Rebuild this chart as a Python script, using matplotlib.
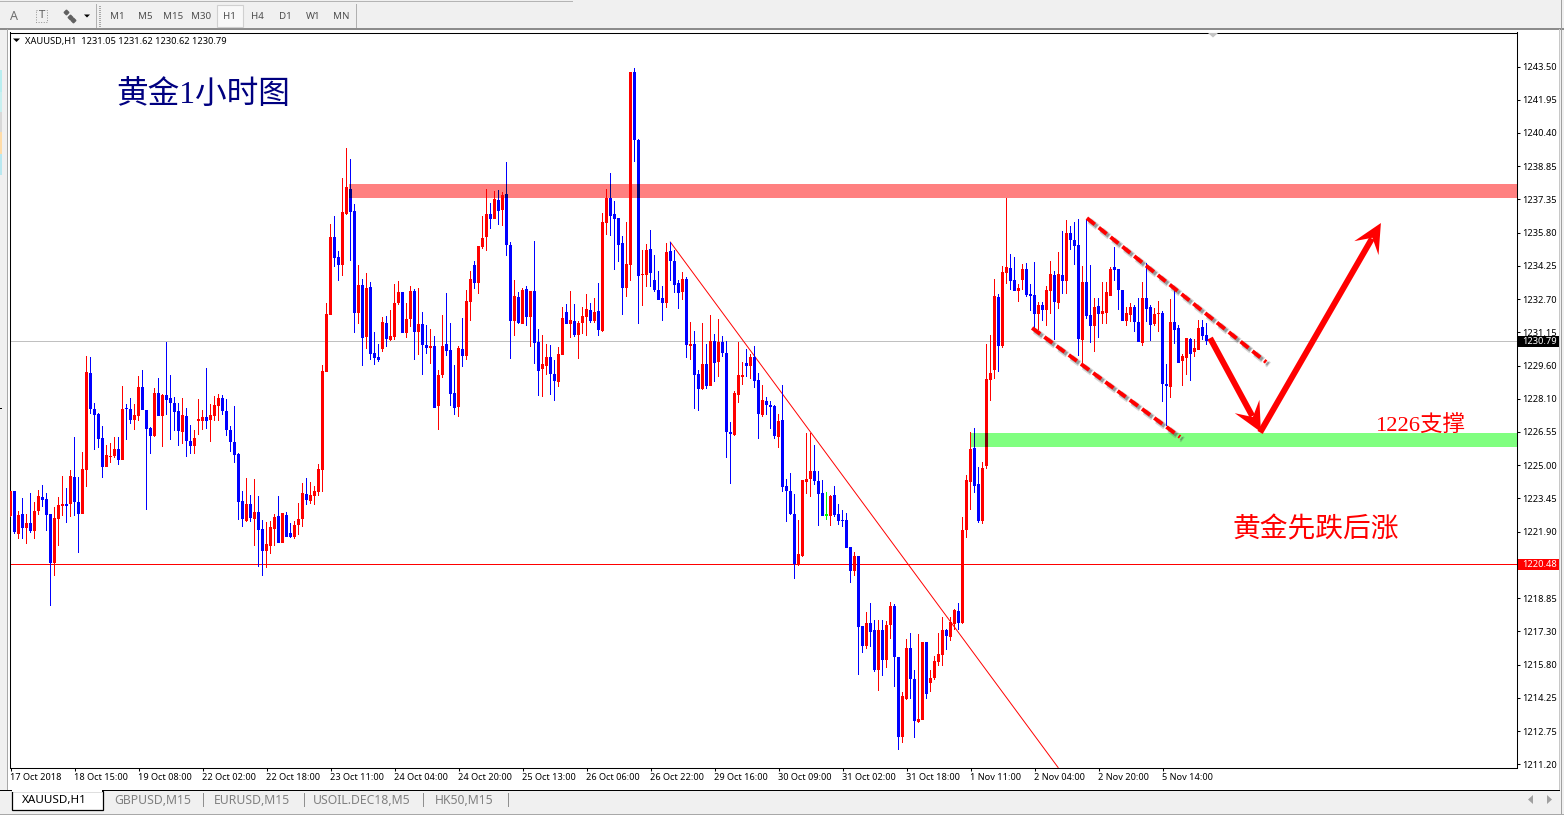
import numpy as np
import matplotlib
matplotlib.use("Agg")
import matplotlib.pyplot as plt
from matplotlib.patches import Rectangle, Polygon
from matplotlib.transforms import ScaledTranslation

opens = [
1222.68,1223.84,1221.85,1222.77,1222.12,1222.36,1221.98,1222.91,1223.56,1223.47,
1222.77,1220.50,1222.54,1223.14,1223.24,1223.24,1224.49,1223.33,1222.77,1224.81,
1229.30,1227.64,1227.40,1226.29,1224.95,1225.41,1225.46,1225.78,1225.27,1227.68,
1227.64,1227.13,1227.31,1228.66,1227.59,1226.76,1226.39,1228.38,1227.31,1228.28,
1228.15,1227.91,1227.54,1226.57,1227.31,1226.15,1225.92,1227.08,1227.08,1227.27,
1227.13,1227.31,1227.78,1228.15,1227.54,1226.66,1226.11,1225.55,1223.37,1222.45,
1223.24,1222.54,1222.87,1222.08,1221.06,1221.29,1222.08,1222.68,1221.43,1222.73,
1221.89,1221.71,1222.26,1222.54,1223.70,1223.37,1223.61,1223.79,1224.81,1229.35,
1231.99,1235.60,1234.68,1234.30,1236.67,1237.83,1236.81,1232.08,1233.38,1230.97,
1233.29,1230.23,1230.04,1230.41,1231.62,1230.83,1230.97,1232.55,1233.05,1231.16,
1231.80,1233.10,1231.20,1231.57,1230.60,1230.46,1230.55,1227.77,1229.21,1230.65,
1230.37,1228.38,1227.73,1230.41,1230.09,1232.59,1234.30,1233.47,1235.14,1235.60,
1236.67,1236.44,1237.32,1236.85,1237.59,1235.23,1231.71,1232.82,1231.57,1233.19,
1231.90,1233.10,1230.74,1229.49,1229.63,1230.04,1229.26,1228.89,1230.14,1232.13,
1231.57,1231.71,1231.06,1231.62,1231.90,1232.22,1231.71,1232.17,1231.25,1236.25,
1237.41,1236.67,1236.48,1235.32,1233.24,1234.30,1243.24,1240.09,1233.84,1233.84,
1235.05,1233.61,1233.15,1232.78,1232.55,1234.96,1234.49,1233.47,1233.06,1233.66,
1230.55,1230.65,1229.26,1228.56,1229.72,1228.70,1230.79,1229.82,1230.74,1230.23,
1226.57,1226.43,1228.29,1229.12,1229.77,1229.63,1230.05,1228.98,1227.36,1228.01,
1227.82,1227.78,1226.34,1227.13,1224.07,1223.83,1222.77,1220.41,1220.82,1224.25,
1224.39,1224.76,1224.30,1223.74,1222.70,1222.68,1223.65,1222.77,1222.49,1222.49,
1221.24,1220.13,1220.82,1217.58,1216.66,1217.72,1217.40,1215.54,1217.40,1216.01,
1217.63,1218.51,1216.15,1212.44,1214.20,1216.56,1215.13,1213.14,1213.23,1216.84,
1214.94,1215.17,1215.91,1216.24,1217.40,1217.07,1217.67,1218.28,1217.72,1222.03,
1224.25,1225.83,1224.16,1222.45,1225.00,1228.98,1229.44,1232.82,1230.55,1233.94,
1234.17,1233.61,1233.10,1233.61,1234.12,1232.96,1232.92,1232.04,1232.45,1232.22,
1233.10,1233.84,1232.55,1233.84,1233.57,1235.79,1235.46,1235.23,1230.83,1233.52,
1231.99,1231.48,1232.41,1232.04,1232.08,1232.87,1234.21,1234.12,1233.15,1231.71,
1231.99,1232.36,1231.67,1230.69,1232.78,1232.36,1231.57,1232.04,1232.08,1228.79,
1228.66,1231.67,1231.39,1229.86,1230.00,1230.88,1230.28,1230.37,1231.43,1231.05]

highs = [
1223.84,1223.84,1222.91,1223.51,1222.77,1223.74,1223.33,1223.88,1224.12,1223.74,
1222.77,1223.10,1223.56,1224.53,1223.98,1224.81,1226.34,1224.49,1225.64,1230.09,
1230.04,1227.91,1227.45,1226.85,1225.97,1226.06,1226.34,1226.34,1228.70,1227.87,
1228.15,1227.87,1229.16,1229.44,1227.59,1226.80,1228.61,1229.07,1228.33,1230.74,
1229.21,1228.19,1227.91,1228.15,1227.68,1226.90,1226.66,1228.10,1227.59,1229.54,
1227.87,1228.24,1228.33,1228.28,1228.10,1226.85,1227.78,1225.60,1223.84,1224.44,
1223.65,1224.39,1223.61,1222.49,1222.40,1222.45,1222.77,1223.61,1222.82,1222.87,
1222.36,1222.45,1223.28,1224.21,1224.44,1224.26,1224.07,1225.09,1229.67,1232.55,
1236.20,1236.57,1234.95,1238.33,1239.72,1239.21,1237.13,1234.30,1233.66,1233.93,
1233.52,1231.20,1230.65,1231.90,1231.94,1232.22,1233.42,1233.56,1233.05,1232.55,
1233.33,1233.19,1233.24,1232.13,1231.53,1231.34,1231.02,1229.44,1231.99,1233.01,
1231.62,1229.67,1230.55,1231.85,1233.15,1234.03,1234.49,1235.18,1236.57,1237.83,
1237.18,1237.73,1237.78,1237.69,1239.08,1235.37,1233.61,1233.05,1233.24,1233.33,
1233.10,1235.42,1231.34,1231.06,1230.65,1230.60,1229.90,1230.51,1232.36,1232.50,
1233.10,1232.50,1231.71,1232.36,1232.96,1232.55,1232.78,1233.47,1236.71,1237.83,
1238.57,1237.27,1236.48,1235.65,1236.30,1243.24,1243.43,1240.14,1235.00,1235.28,
1235.93,1234.77,1234.03,1233.34,1235.33,1235.37,1235.00,1233.61,1233.98,1233.75,
1231.67,1231.25,1229.44,1231.62,1230.65,1231.99,1231.11,1231.81,1231.02,1230.79,
1227.04,1228.47,1230.74,1229.82,1230.42,1230.19,1230.55,1229.31,1228.75,1228.20,
1228.01,1227.82,1227.41,1228.75,1224.39,1224.67,1223.70,1222.49,1224.34,1226.52,
1226.52,1225.97,1224.76,1224.34,1223.79,1223.65,1224.07,1223.23,1222.95,1222.81,
1221.24,1221.01,1220.82,1217.58,1218.23,1218.65,1217.86,1217.86,1217.86,1217.81,
1218.69,1218.60,1216.15,1214.52,1216.98,1217.26,1215.54,1217.21,1216.84,1216.84,
1215.54,1216.19,1217.26,1218.00,1217.44,1218.00,1218.37,1218.65,1222.63,1224.58,
1226.57,1226.76,1224.95,1225.18,1230.65,1231.06,1233.66,1232.96,1234.26,1237.41,
1234.82,1234.68,1233.43,1234.35,1234.40,1233.43,1234.45,1232.59,1232.59,1233.33,
1234.49,1234.03,1234.91,1235.88,1236.39,1236.11,1236.30,1236.44,1234.26,1236.44,
1234.31,1232.78,1232.78,1233.52,1233.52,1234.21,1235.14,1234.12,1233.15,1232.36,
1232.55,1232.45,1232.78,1233.52,1234.40,1232.45,1232.31,1232.64,1232.18,1229.72,
1232.73,1233.19,1231.53,1230.18,1230.93,1230.93,1230.88,1231.76,1231.76,1231.62]

lows = [
1222.62,1221.85,1221.61,1221.61,1221.38,1221.89,1221.61,1222.73,1223.10,1221.98,
1218.51,1219.90,1221.29,1222.68,1222.36,1222.63,1222.68,1220.97,1222.77,1224.02,
1227.40,1225.74,1225.83,1224.44,1224.95,1225.13,1225.37,1225.04,1225.27,1226.20,
1226.94,1226.66,1227.08,1227.59,1222.96,1225.55,1226.34,1227.31,1225.88,1227.36,
1226.20,1226.62,1225.92,1226.02,1225.41,1225.55,1225.55,1226.43,1226.66,1226.71,
1226.11,1227.08,1227.08,1227.36,1226.39,1225.64,1225.13,1222.49,1222.17,1222.40,
1222.40,1221.29,1220.32,1219.90,1220.27,1220.92,1221.29,1221.43,1221.43,1221.71,
1221.66,1221.61,1221.80,1222.17,1223.19,1223.24,1223.19,1223.61,1223.79,1229.35,
1231.99,1234.21,1233.56,1233.80,1236.62,1234.49,1231.16,1231.57,1229.63,1230.41,
1229.90,1229.67,1229.81,1230.26,1230.51,1230.78,1230.83,1232.45,1231.16,1230.92,
1231.43,1229.90,1230.14,1229.21,1230.18,1229.72,1227.68,1226.66,1229.07,1230.09,
1227.77,1227.36,1227.26,1229.58,1229.90,1231.71,1233.19,1232.96,1235.05,1234.95,
1235.97,1236.44,1236.16,1236.11,1234.72,1229.95,1231.02,1231.57,1231.57,1231.48,
1230.51,1229.72,1228.24,1228.19,1229.21,1228.28,1228.01,1228.65,1230.14,1231.57,
1230.92,1230.97,1229.95,1231.11,1231.02,1231.62,1231.62,1231.02,1231.20,1235.69,
1235.65,1234.07,1234.44,1231.99,1232.82,1233.56,1239.08,1231.57,1232.41,1233.29,
1233.29,1233.06,1232.69,1231.72,1232.32,1233.57,1233.01,1232.27,1232.69,1230.00,
1229.91,1227.64,1227.54,1228.52,1228.56,1228.70,1228.89,1229.12,1230.05,1225.37,
1224.17,1226.39,1227.92,1228.75,1229.12,1229.03,1228.61,1226.25,1227.27,1227.36,
1226.71,1226.25,1225.83,1223.79,1222.40,1222.72,1219.76,1220.36,1220.78,1223.70,
1223.56,1224.11,1222.21,1222.68,1222.49,1222.21,1222.63,1222.26,1222.17,1221.19,
1219.57,1219.90,1215.31,1216.33,1216.52,1216.61,1215.45,1214.57,1215.27,1215.64,
1216.98,1214.76,1211.84,1212.16,1214.15,1214.20,1212.39,1213.09,1213.23,1214.20,
1214.52,1215.08,1215.73,1215.73,1216.47,1216.89,1217.40,1217.40,1217.67,1221.66,
1222.96,1223.75,1222.36,1222.31,1224.86,1228.01,1229.03,1229.35,1230.46,1233.43,
1233.15,1233.10,1232.59,1233.15,1232.82,1232.18,1231.39,1231.30,1231.71,1231.48,
1232.04,1230.83,1232.27,1232.96,1232.96,1235.00,1234.31,1230.09,1229.63,1231.80,
1230.69,1230.28,1230.93,1231.57,1231.57,1232.87,1233.57,1232.22,1231.71,1231.48,
1231.67,1231.20,1230.74,1230.55,1231.67,1230.79,1231.48,1231.20,1227.96,1226.85,
1228.15,1230.65,1229.77,1228.70,1229.21,1228.93,1230.05,1230.37,1230.83,1230.62]

closes = [
1223.84,1221.94,1222.73,1222.12,1222.36,1221.98,1222.91,1223.61,1223.42,1222.73,
1220.50,1222.59,1223.19,1223.24,1223.14,1224.53,1223.33,1222.77,1224.86,1229.35,
1227.64,1227.36,1226.25,1224.95,1225.51,1225.46,1225.78,1225.27,1227.64,1227.64,
1227.13,1227.36,1228.66,1227.59,1226.71,1226.39,1228.38,1227.31,1228.28,1228.05,
1227.91,1227.50,1226.62,1227.36,1226.15,1225.92,1226.29,1227.17,1227.27,1227.08,
1227.36,1227.82,1228.15,1227.54,1226.66,1226.11,1225.51,1223.33,1222.54,1223.24,
1222.59,1222.87,1222.03,1221.06,1221.38,1222.17,1222.63,1221.43,1222.82,1221.71,
1221.71,1222.26,1222.54,1223.74,1223.42,1223.65,1223.84,1224.86,1229.40,1232.04,
1235.60,1234.63,1234.30,1236.76,1237.92,1236.76,1232.08,1233.38,1230.92,1233.24,
1230.18,1230.00,1229.90,1231.66,1230.88,1231.02,1232.55,1233.05,1231.16,1231.80,
1233.10,1231.20,1231.57,1230.60,1230.46,1230.55,1227.68,1229.21,1230.55,1230.32,
1228.33,1227.68,1230.46,1230.09,1232.64,1233.66,1233.47,1235.18,1235.56,1236.67,
1236.44,1237.36,1236.81,1237.55,1235.23,1231.71,1232.87,1231.62,1233.15,1231.90,
1233.10,1230.69,1229.39,1229.72,1230.04,1229.26,1228.93,1230.18,1231.85,1231.57,
1231.76,1231.06,1231.62,1231.94,1232.27,1231.71,1232.13,1231.29,1236.30,1237.41,
1236.57,1236.44,1235.23,1233.24,1234.35,1243.24,1240.09,1233.80,1233.89,1235.00,
1233.93,1233.15,1232.69,1232.55,1234.91,1234.49,1233.38,1233.01,1233.66,1230.60,
1230.65,1229.21,1228.56,1229.72,1228.70,1230.79,1229.77,1230.74,1230.23,1226.57,
1226.48,1228.38,1229.21,1229.21,1229.63,1230.05,1228.94,1227.41,1228.06,1227.82,
1227.73,1226.39,1227.08,1224.03,1223.83,1222.77,1220.45,1220.92,1224.34,1224.39,
1224.76,1224.30,1223.70,1222.68,1222.70,1223.60,1222.72,1222.45,1222.45,1221.19,
1220.13,1220.82,1217.53,1216.66,1217.72,1217.30,1215.54,1217.40,1216.01,1217.63,
1218.51,1216.15,1212.44,1214.34,1216.56,1215.13,1213.18,1213.27,1216.84,1214.43,
1215.17,1215.96,1216.28,1217.40,1217.12,1217.77,1218.32,1217.72,1222.03,1224.34,
1225.78,1224.07,1222.45,1224.90,1229.03,1229.30,1232.87,1230.55,1233.98,1234.21,
1233.57,1233.10,1233.24,1234.12,1232.92,1232.87,1232.04,1232.45,1232.22,1233.15,
1233.89,1232.59,1233.89,1233.57,1235.79,1235.46,1235.19,1230.88,1233.52,1231.94,
1231.48,1232.36,1232.04,1232.18,1233.06,1234.12,1234.07,1233.15,1231.71,1232.08,
1232.36,1231.67,1230.74,1232.78,1232.27,1231.53,1232.04,1232.08,1228.79,1228.70,
1231.67,1231.30,1229.77,1230.09,1230.93,1230.18,1230.46,1231.39,1231.02,1230.79]

price_ticks = ["1243.50","1241.95","1240.40","1238.85","1237.35","1235.80","1234.25","1232.70","1231.15","1229.60",
               "1228.10","1226.55","1225.00","1223.45","1221.90","1220.35","1218.85","1217.30","1215.80","1214.25",
               "1212.75","1211.20"]
date_labels = ["17 Oct 2018","18 Oct 15:00","19 Oct 08:00","22 Oct 02:00","22 Oct 18:00",
               "23 Oct 11:00","24 Oct 04:00","24 Oct 20:00","25 Oct 13:00","26 Oct 06:00",
               "26 Oct 22:00","29 Oct 16:00","30 Oct 09:00","31 Oct 02:00","31 Oct 18:00",
               "1 Nov 11:00","2 Nov 04:00","2 Nov 20:00","5 Nov 14:00"]
timeframes = ["M1","M5","M15","M30","H1","H4","D1","W1","MN"]
tabs = ["GBPUSD,M15","EURUSD,M15","USOIL.DEC18,M5","HK50,M15"]

bid = 1230.79
level = 1220.48
resistance = (1237.41, 1238.06)
support = (1225.87, 1226.52)

SANS = "Noto Sans"
CJK = ["Liberation Serif", "Noto Sans CJK SC"]
W, H = 1564, 815

O, Hi, L, C = map(np.array, (opens, highs, lows, closes))
idx = np.arange(len(O))
assert all(len(a) == 300 for a in (O, Hi, L, C))

fig = plt.figure(figsize=(W/100, H/100), dpi=100, facecolor="#f0f0f0")

# window chrome, in pixels
bg = fig.add_axes([0, 0, 1, 1], zorder=0)
bg.set_xlim(0, W); bg.set_ylim(H, 0); bg.axis("off")
def rect(x0, y0, x1, y1, **kw):
    kw.setdefault("lw", 0)
    bg.add_patch(Rectangle((x0, y0), x1-x0, y1-y0, **kw))
rect(8, 30, 1559, 790, fc="white")
rect(0, 28, 1564, 29.5, fc="#8c8c8c")
rect(0, 0.5, 573, 1.5, fc="#b4b4b4")
rect(7, 29, 8, 790, fc="#a8a8a8")
rect(1559, 29, 1560, 790, fc="#c8c8c8")
rect(1561, 0, 1562, 815, fc="#a0a0a0")
rect(0, 790, 1560, 791, fc="black")
rect(0, 813.5, 1564, 815, fc="#a8a8a8")
for y0, y1, c in [(70, 92, "#b8eef0"), (92, 112, "#c8f0f0"), (112, 132, "#d8d8d8"),
                  (132, 154, "#ffdca8"), (154, 175, "#b8e8f0")]:
    rect(0, y0, 2, y1, fc=c)
rect(0, 407.5, 2, 408.5, fc="black")

# toolbar
for x in (96, 356):
    rect(x, 4, x+1, 28, fc="#b0b0b0")
for y in range(6, 27, 2):
    rect(99, y, 101, y+1, fc="#a8a8a8")
rect(217, 4.5, 243, 26.5, fc="#f8f8f8", ec="#d0d0d0", lw=0.8)
for i, tf in enumerate(timeframes):
    bg.text(117+28*i, 16.5, tf, fontsize=7, family=SANS, color="#505050", ha="center", va="center")
bg.text(13.5, 16, "A", fontsize=9, family=SANS, weight="bold", color="#707070", ha="center", va="center")
rect(36, 10, 47, 22, fc="none", ec="#909090", lw=0.7, ls=":")
bg.text(41.5, 16, "T", fontsize=8, family=SANS, weight="bold", color="#606060", ha="center", va="center")
bg.plot([66, 70, 73], [12, 17, 20], ls="none", marker="D", ms=2.4, color="#606060")
bg.add_patch(Polygon([(84, 14.5), (90, 14.5), (87, 17.5)], fc="black", lw=0))

# bottom tab strip
rect(11.5, 790.5, 102.5, 810, fc="white", ec="black", lw=0.9)
rect(12, 789.5, 102, 791.5, fc="white")
bg.text(22, 800.5, "XAUUSD,H1", fontsize=8.4, family=SANS, color="black", va="center")
for x, t in zip((114, 214, 313, 435), tabs):
    bg.text(x, 800.5, t, fontsize=8.8, family=SANS, color="#808080", va="center")
for x in (203, 304, 423, 508):
    rect(x, 793, x+1, 807, fc="#909090")
bg.add_patch(Polygon([(1533, 795), (1533, 804), (1528, 799.5)], fc="#a0a0a0", lw=0))
bg.add_patch(Polygon([(1547, 795), (1547, 804), (1552, 799.5)], fc="#a0a0a0", lw=0))

# chart
px_left, px_right, px_top, px_bottom = 9.5, 1516.5, 32.5, 767.5
ax = fig.add_axes([px_left/W, 1-px_bottom/H, (px_right-px_left)/W, (px_bottom-px_top)/H], zorder=2)
ax.set_facecolor("white")
ax.set_xlim(-0.25, 376.5)
ax.set_ylim(1211.03, 1245.075)
for s in ax.spines.values():
    s.set_linewidth(0.75); s.set_color("black")

ax.add_patch(Rectangle((84.5, resistance[0]), 292, resistance[1]-resistance[0], fc="#ff8080", lw=0, zorder=1))
ax.add_patch(Rectangle((240, support[0]), 136.5, support[1]-support[0], fc="#80ff80", lw=0, zorder=1))
ax.axhspan(bid-0.045, bid+0.001, fc="#c0c0c0", lw=0, zorder=1.5)
ax.axhspan(level-0.07, level-0.024, fc="#ff0000", lw=0, zorder=1.5)
ax.plot([164.95, 261.9], [1235.37, 1211.03], color="red", lw=0.7, zorder=1.5)

def candles(up, down, doji, clip=None, z=3):
    cols = list(np.where(C > O, up, np.where(C < O, down, doji)))
    wicks = ax.bar(idx, Hi-L, bottom=L, width=0.25, color=cols, lw=0, zorder=z)
    top = np.maximum(O, C); bot = np.minimum(O, C)
    h = np.maximum(top-bot, 0.05)
    bodies = ax.bar(idx, h, bottom=bot, width=0.75, color=cols, lw=0, zorder=z)
    if clip is not None:
        cp = Rectangle((clip[0], clip[1]), clip[2], clip[3], transform=ax.transData)
        for b in list(wicks) + list(bodies):
            b.set_clip_path(cp)

candles("#ff0000", "#0000ff", "#00ff00")
candles("#ff0000", "#000080", "#ff8000", clip=(84.5, resistance[0], 292, resistance[1]-resistance[0]), z=4)
candles("#800000", "#000080", "#008000", clip=(240, support[0], 136.5, support[1]-support[0]), z=4)
ax.set_xlim(-0.25, 376.5)
ax.set_ylim(1211.03, 1245.075)

ax.yaxis.tick_right()
ax.set_yticks(np.linspace(1243.5, 1211.18, len(price_ticks)))
ax.set_yticklabels(price_ticks, fontsize=6.7, family=SANS)
ax.tick_params(axis="y", length=2.2, width=0.75, pad=2.2, color="black", labelcolor="black")
ax.set_xticks(np.arange(len(date_labels))*16)
ax.set_xticklabels(date_labels, fontsize=6.6, family=SANS, ha="left")
ax.tick_params(axis="x", length=2.2, width=0.75, pad=1.5, color="black", labelcolor="black")
shift = ScaledTranslation(-1/100, 0, fig.dpi_scale_trans)
for lab in ax.get_xticklabels():
    lab.set_transform(lab.get_transform() + shift)

# overlay: annotations
ov = fig.add_axes([0, 0, 1, 1], zorder=3)
ov.set_xlim(0, W); ov.set_ylim(H, 0); ov.axis("off"); ov.patch.set_alpha(0)

def to_px(i, p):
    return 10.5 + 4*i, 66.5 + (1243.5 - p)*21.59

def dashed(a, b):
    (x0, y0), (x1, y1) = to_px(*a), to_px(*b)
    pat = (0, (2.6, 1.3))
    for off, lw, al in ((2.8, 4.6, 0.22), (2.2, 2.8, 0.45)):
        ov.plot([x0+off, x1+off], [y0+off, y1+off], color="#505050", lw=lw, alpha=al,
                ls=(0, (2.6*2.8/lw, 1.3*2.8/lw)), dash_capstyle="butt")
    ov.plot([x0, x1], [y0, y1], color="red", lw=2.8, ls=pat, dash_capstyle="butt")

dashed((269.1, 1236.48), (313.9, 1229.81))
dashed((255.4, 1231.39), (292.4, 1226.34))

def arrow(a, b):
    (x0, y0), (x1, y1) = to_px(*a), to_px(*b)
    d = np.array([x1-x0, y1-y0], float); n = np.hypot(*d); u = d/n; v = np.array([-u[1], u[0]])
    tip = np.array([x1, y1]); start = np.array([x0, y0])
    neck = tip - u*18
    hw = 3.0
    ov.add_patch(Polygon([start+v*hw, neck+v*hw, neck-v*hw, start-v*hw], fc="red", lw=0))
    ov.add_patch(Polygon([tip, tip-u*29+v*14, tip-u*17, tip-u*29-v*14], fc="red", lw=0))

arrow((299.9, 1230.92), (312.6, 1226.57))
arrow((312.4, 1226.55), (342.6, 1236.25))

ov.text(116, 95.5, "黄金1小时图", fontsize=22.8, family=CJK, color="#000080", va="center")
ov.text(1375, 426, "1226支撑", fontsize=16.2, family=CJK, color="red", va="center")
ov.text(1232, 530, "黄金先跌后涨", fontsize=20, family=CJK, color="red", va="center")

ov.add_patch(Polygon([(13, 38.5), (20, 38.5), (16.5, 42)], fc="black", lw=0))
ov.text(25, 41.5, "XAUUSD,H1  1231.05 1231.62 1230.62 1230.79", fontsize=6.7, family=SANS, color="black", va="center")
ov.add_patch(Polygon([(1208, 33), (1218, 33), (1213, 37.5)], fc="#c4c4c4", lw=0))

# current price labels
_, yb = to_px(0, bid); _, yl = to_px(0, level)
yb += 0.5; yl += 0.5
ov.add_patch(Rectangle((1518, yb-5.5), 40.5, 11, fc="black", lw=0))
ov.text(1522, yb, f"{bid:.2f}", fontsize=6.7, family=SANS, color="white", va="center")
ov.add_patch(Rectangle((1518, yl-5.5), 40.5, 11, fc="red", lw=0))
ov.text(1522, yl, f"{level:.2f}", fontsize=6.7, family=SANS, color="white", va="center")

fig.savefig("out.png", dpi=100, facecolor=fig.get_facecolor())
